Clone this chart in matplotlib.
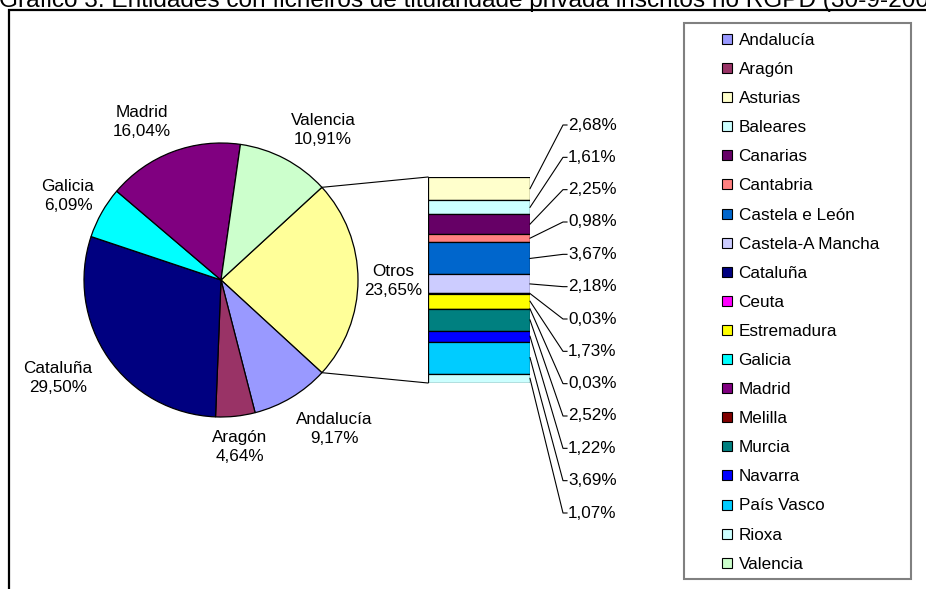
import matplotlib
matplotlib.use("Agg")
import matplotlib.pyplot as plt
from matplotlib.patches import Rectangle
from matplotlib.lines import Line2D
import numpy as np

plt.rcParams['font.family'] = ['Liberation Sans', 'DejaVu Sans']

# ---------------- data ----------------
title = "Gráfico 3. Entidades con ficheiros de titularidade privada inscritos no RGPD (30-9-2007)"

pie_names = ["Otros", "Andalucía", "Aragón", "Cataluña", "Galicia", "Madrid", "Valencia"]
pie_values = [23.65, 9.17, 4.64, 29.50, 6.09, 16.04, 10.91]
pie_colors = ["#FFFF99", "#9999FF", "#993366", "#000080", "#00FFFF", "#800080", "#CCFFCC"]

bar_names = ["Asturias", "Baleares", "Canarias", "Cantabria", "Castela e León",
             "Castela-A Mancha", "Ceuta", "Estremadura", "Melilla", "Murcia",
             "Navarra", "País Vasco", "Rioxa"]
bar_values = [2.68, 1.61, 2.25, 0.98, 3.67, 2.18, 0.03, 1.73, 0.03, 2.52, 1.22, 3.69, 1.07]
bar_colors = ["#FFFFCC", "#CCFFFF", "#660066", "#FF8080", "#0066CC",
              "#CCCCFF", "#FF00FF", "#FFFF00", "#800000", "#008080",
              "#0000FF", "#00CCFF", "#CCFFFF"]

legend_names = ["Andalucía", "Aragón", "Asturias", "Baleares", "Canarias", "Cantabria",
                "Castela e León", "Castela-A Mancha", "Cataluña", "Ceuta", "Estremadura",
                "Galicia", "Madrid", "Melilla", "Murcia", "Navarra", "País Vasco",
                "Rioxa", "Valencia"]
legend_colors = ["#9999FF", "#993366", "#FFFFCC", "#CCFFFF", "#660066", "#FF8080",
                 "#0066CC", "#CCCCFF", "#000080", "#FF00FF", "#FFFF00",
                 "#00FFFF", "#800080", "#800000", "#008080", "#0000FF", "#00CCFF",
                 "#CCFFFF", "#CCFFCC"]

# ---------------- layout ----------------
W, H = 926, 589
fig = plt.figure(figsize=(W / 100, H / 100), dpi=100)
fig.patch.set_facecolor("white")

def fx(x):
    return x / W

def fy(y):
    return 1 - y / H

def fmt(v):
    return f"{v:.2f}%".replace(".", ",")

FS = 12.3

# outer chart-area frame (only top and left edges visible)
fig.add_artist(Rectangle((fx(8.5), fy(700)), 2.0, fy(10) - fy(700),
                         transform=fig.transFigure, fill=False,
                         edgecolor="black", linewidth=1.6))

# title (clipped at the top of the image, as in the source)
fig.text(fx(-1), fy(7.3), title, fontsize=17.6, ha="left", va="baseline", color="black")

# ---------------- pie ----------------
cx, cy, R = 221, 280, 137
ax_pie = fig.add_axes([fx(cx - R), fy(cy + R), 2 * R / W, 2 * R / H])
start = pie_values[0] / 100 * 360 / 2
wedges, _ = ax_pie.pie(pie_values, colors=pie_colors, startangle=start,
                       counterclock=False, radius=1,
                       wedgeprops=dict(edgecolor="black", linewidth=0.9))
ax_pie.set_xlim(-1, 1)
ax_pie.set_ylim(-1, 1)
ax_pie.set_aspect("equal")
ax_pie.axis("off")

# label positions (radius units, relative to pie centre)
pie_label_pos = [(1.255, -0.007), (0.825, -1.088), (0.139, -1.219), (-1.190, -0.715),
                 (-1.117, 0.613), (-0.577, 1.153), (0.745, 1.095)]
for name, v, (lx, ly) in zip(pie_names, pie_values, pie_label_pos):
    ax_pie.text(lx, ly, f"{name}\n{fmt(v)}", ha="center", va="center",
                fontsize=FS, linespacing=1.4, color="black")

# ---------------- stacked bar ----------------
bx0, bx1, by0, by1 = 428, 530, 177, 383
ax_bar = fig.add_axes([fx(bx0), fy(by1), (bx1 - bx0) / W, (by1 - by0) / H])
bottoms = np.concatenate([[0], np.cumsum(bar_values)[:-1]])
total = float(np.sum(bar_values))
ax_bar.bar([0] * len(bar_values), bar_values, bottom=bottoms, width=1.0,
           color=bar_colors, edgecolor="black", linewidth=0.9)
ax_bar.set_xlim(-0.5, 0.5)
ax_bar.set_ylim(total, 0)
ax_bar.axis("off")

inv = fig.transFigure.inverted()

def to_fig(ax, x, y):
    return inv.transform(ax.transData.transform((x, y)))

# connector lines between pie and bar
ow = wedges[0]
for ang, yb in [(ow.theta2, 0), (ow.theta1, total)]:
    p = to_fig(ax_pie, np.cos(np.radians(ang)), np.sin(np.radians(ang)))
    q = to_fig(ax_bar, -0.5, yb)
    fig.add_artist(Line2D([p[0], q[0]], [p[1], q[1]], transform=fig.transFigure,
                          color="black", linewidth=0.8))

# bar labels with leader lines
lab_y0, lab_dy = 125, (513 - 125) / 12
for i, (v, b) in enumerate(zip(bar_values, bottoms)):
    ly = lab_y0 + i * lab_dy
    p = to_fig(ax_bar, 0.5, b + v / 2)
    fig.add_artist(Line2D([p[0], fx(563), fx(567)], [p[1], fy(ly), fy(ly)],
                          transform=fig.transFigure, color="black", linewidth=0.8))
    fig.text(fx(568), fy(ly), fmt(v), ha="left", va="center", fontsize=FS, color="black")

# ---------------- legend ----------------
fig.add_artist(Rectangle((fx(684), fy(579)), fx(911) - fx(684), fy(23) - fy(579),
                         transform=fig.transFigure, facecolor="white",
                         edgecolor="#808080", linewidth=1.5, zorder=0))
handles = [Line2D([], [], marker="s", linestyle="none", markersize=7.3,
                  markerfacecolor=c, markeredgecolor="black", markeredgewidth=0.8)
           for c in legend_colors]
fig.legend(handles, legend_names, loc="upper left",
           bbox_to_anchor=(fx(718.7), fy(33)), frameon=False, fontsize=FS,
           handlelength=1.0, handletextpad=0.16, labelspacing=0.825,
           borderpad=0, borderaxespad=0)

fig.savefig("out.png", dpi=100, facecolor="white")
